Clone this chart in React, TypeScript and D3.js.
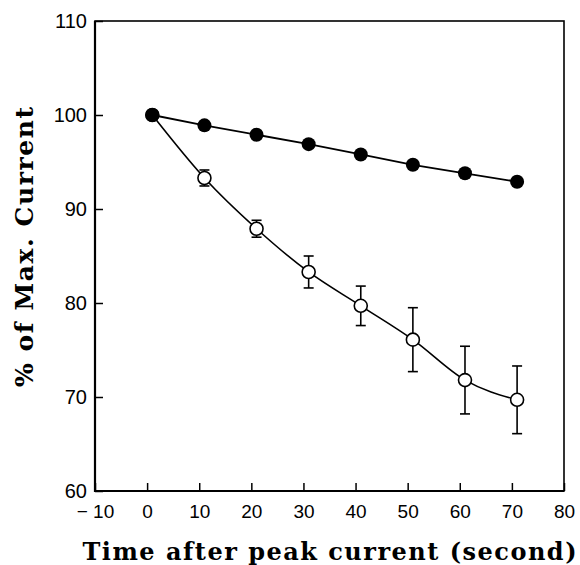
import React, { useRef, useEffect } from "react";
import * as d3 from "d3";

// time after peak current (s)
const timePoints = [1, 11, 21, 31, 41, 51, 61, 71];
// filled circles
const filledValues = [100, 98.9, 97.9, 96.9, 95.8, 94.7, 93.8, 92.9];
// open circles with error bars
const openValues = [100, 93.3, 87.9, 83.3, 79.7, 76.1, 71.8, 69.7];
const openErrors = [0, 0.85, 0.9, 1.7, 2.1, 3.4, 3.6, 3.6];

const xTicks = [-10, 0, 10, 20, 30, 40, 50, 60, 70, 80];
const yTicks = [60, 70, 80, 90, 100, 110];

const xTitle = "Time after peak current (second)";
const yTitle = "% of Max. Current";

const App = () => {
  const svgRef = useRef(null);

  useEffect(() => {
    const svg = d3.select(svgRef.current);
    svg.selectAll("*").remove();

    const width = 580;
    const height = 565;
    const left = 95;
    const right = 564;
    const top = 21;
    const bottom = 491;
    svg.attr("width", width).attr("height", height);

    const x = d3.scaleLinear().domain([-10, 80]).range([left, right]);
    const y = d3.scaleLinear().domain([60, 110]).range([bottom, top]);

    // x axis ticks + labels
    const xAxis = d3
      .axisBottom(x)
      .tickValues(xTicks)
      .tickSize(-8)
      .tickPadding(14)
      .tickFormat((d) => (d < 0 ? "\u2212 " + Math.abs(d) : String(d)));
    const gx = svg
      .append("g")
      .attr("transform", `translate(0,${bottom})`)
      .call(xAxis);
    gx.select(".domain").remove();
    gx.selectAll("line").attr("stroke", "#000").attr("stroke-width", 1.5);
    gx.selectAll("text")
      .attr("font-family", "'Liberation Sans', Arial, sans-serif")
      .attr("font-size", 19)
      .attr("fill", "#000");

    // y axis ticks + labels
    const yAxis = d3.axisLeft(y).tickValues(yTicks).tickSize(-8).tickPadding(8);
    const gy = svg.append("g").attr("transform", `translate(${left},0)`).call(yAxis);
    gy.select(".domain").remove();
    gy.selectAll("line").attr("stroke", "#000").attr("stroke-width", 1.5);
    gy.selectAll("text")
      .attr("font-family", "'Liberation Sans', Arial, sans-serif")
      .attr("font-size", 20)
      .attr("fill", "#000");

    // frame
    svg
      .append("rect")
      .attr("x", left)
      .attr("y", top)
      .attr("width", right - left)
      .attr("height", bottom - top)
      .attr("fill", "none")
      .attr("stroke", "#000")
      .attr("stroke-width", 1.6);
    svg
      .append("path")
      .attr("d", `M${left},${top}V${bottom}H${right}`)
      .attr("fill", "none")
      .attr("stroke", "#000")
      .attr("stroke-width", 2.2);

    const openData = timePoints.map((t, i) => ({ t, v: openValues[i], e: openErrors[i] }));
    const filledData = timePoints.map((t, i) => ({ t, v: filledValues[i] }));

    // open series curve
    const curve = d3
      .line()
      .x((d) => x(d.t))
      .y((d) => y(d.v))
      .curve(d3.curveMonotoneX);
    svg
      .append("path")
      .datum(openData)
      .attr("d", curve)
      .attr("fill", "none")
      .attr("stroke", "#000")
      .attr("stroke-width", 1.6);

    // filled series line
    const line = d3
      .line()
      .x((d) => x(d.t))
      .y((d) => y(d.v));
    svg
      .append("path")
      .datum(filledData)
      .attr("d", line)
      .attr("fill", "none")
      .attr("stroke", "#000")
      .attr("stroke-width", 1.8);

    // error bars
    const eb = svg
      .append("g")
      .selectAll("g")
      .data(openData.filter((d) => d.e > 0))
      .enter()
      .append("g")
      .attr("stroke", "#000")
      .attr("stroke-width", 1.6);
    eb.append("line")
      .attr("x1", (d) => x(d.t))
      .attr("x2", (d) => x(d.t))
      .attr("y1", (d) => y(d.v + d.e))
      .attr("y2", (d) => y(d.v - d.e));
    eb.append("line")
      .attr("x1", (d) => x(d.t) - 5)
      .attr("x2", (d) => x(d.t) + 5)
      .attr("y1", (d) => y(d.v + d.e))
      .attr("y2", (d) => y(d.v + d.e));
    eb.append("line")
      .attr("x1", (d) => x(d.t) - 5)
      .attr("x2", (d) => x(d.t) + 5)
      .attr("y1", (d) => y(d.v - d.e))
      .attr("y2", (d) => y(d.v - d.e));

    // open circles
    svg
      .append("g")
      .selectAll("circle")
      .data(openData)
      .enter()
      .append("circle")
      .attr("cx", (d) => x(d.t))
      .attr("cy", (d) => y(d.v))
      .attr("r", 6.5)
      .attr("fill", "#fff")
      .attr("stroke", "#000")
      .attr("stroke-width", 1.6);

    // filled circles
    svg
      .append("g")
      .selectAll("circle")
      .data(filledData)
      .enter()
      .append("circle")
      .attr("cx", (d) => x(d.t))
      .attr("cy", (d) => y(d.v))
      .attr("r", 7)
      .attr("fill", "#000");

    // axis titles
    svg
      .append("text")
      .attr("x", (left + right) / 2)
      .attr("y", 560)
      .attr("text-anchor", "middle")
      .attr("font-family", "'DejaVu Serif', 'Liberation Serif', serif")
      .attr("font-weight", "bold")
      .attr("font-size", 24)
      .attr("textLength", 494)
      .attr("lengthAdjust", "spacing")
      .text(xTitle);

    svg
      .append("text")
      .attr("transform", `translate(33,247) rotate(-90)`)
      .attr("text-anchor", "middle")
      .attr("font-family", "'DejaVu Serif', 'Liberation Serif', serif")
      .attr("font-weight", "bold")
      .attr("font-size", 25)
      .attr("textLength", 280)
      .attr("lengthAdjust", "spacing")
      .text(yTitle);
  }, []);

  return (
    <svg
      ref={svgRef}
      style={{ position: "absolute", left: 0, top: 0, background: "#fff" }}
    />
  );
};

export default App;
